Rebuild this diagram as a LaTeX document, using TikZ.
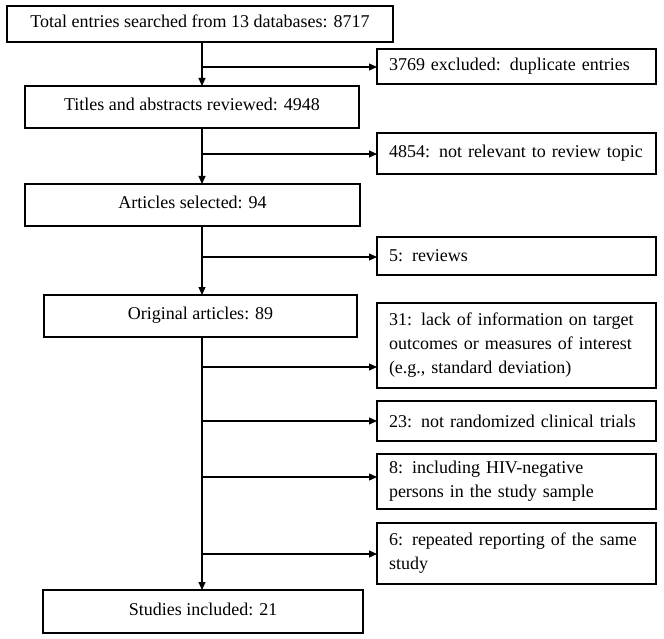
\documentclass[tikz,border=0pt]{standalone}
\usepackage{fontspec}
\setmainfont{Liberation Serif}
\usetikzlibrary{arrows.meta}
\begin{document}
\begin{tikzpicture}[x=1pt,y=-1pt,
  every node/.style={font=\fontsize{18}{24}\selectfont},
  mainbox/.style={draw=black, line width=1.3pt, inner sep=0pt, outer sep=0pt, align=center, text height=12.5pt, text depth=5pt},
  exbox/.style={draw=black, line width=1.3pt, inner xsep=12pt, inner ysep=0pt, outer sep=0pt, minimum width=279pt, text width=255pt, align=left},
  arr/.style={line width=1.2pt, -{Triangle[length=8pt,width=7pt]}},
  ln/.style={line width=1.2pt}]
\useasboundingbox (0,0) rectangle (664,639);
\coordinate (sp) at (202,0);
% main boxes
\node[mainbox, minimum width=386pt, minimum height=36pt] (b1) at (200,24) {Total entries searched from 13 databases: 8717};
\node[mainbox, minimum width=334pt, minimum height=42pt] (b2) at (192,107) {Titles and abstracts reviewed: 4948};
\node[mainbox, minimum width=335pt, minimum height=42pt] (b3) at (192.5,205) {Articles selected: 94};
\node[mainbox, minimum width=313pt, minimum height=42pt] (b4) at (200.5,316) {Original articles: 89};
\node[mainbox, minimum width=320pt, minimum height=43pt] (b5) at (203,611.5) {Studies included: 21};
% exclusion boxes
\node[exbox, minimum height=35pt] (e1) at (516.5,66.5) {3769 excluded: duplicate entries};
\node[exbox, minimum height=41pt] (e2) at (516.5,153.5) {4854: not relevant to review topic};
\node[exbox, minimum height=38pt] (e3) at (516.5,256) {5: reviews};
\node[exbox, minimum height=85pt] (e4) at (516.5,345.5) {31: lack of information on target\\outcomes or measures of interest\\(e.g., standard deviation)};
\node[exbox, minimum height=40pt] (e5) at (516.5,421) {23: not randomized clinical trials};
\node[exbox, minimum height=55pt] (e6) at (516.5,481.5) {8: including HIV-negative\\persons in the study sample};
\node[exbox, minimum height=61pt] (e7) at (516.5,553.5) {6: repeated reporting of the same\\study};
% junction coordinates on the spine
\coordinate (j1) at (202,67);
\coordinate (j2) at (202,154);
\coordinate (j3) at (202,257);
\coordinate (j4) at (202,367);
\coordinate (j5) at (202,421);
\coordinate (j6) at (202,477);
\coordinate (j7) at (202,554);
% vertical arrows
\draw[arr] (b1.south -| sp) -- (b2.north -| sp);
\draw[arr] (b2.south -| sp) -- (b3.north -| sp);
\draw[arr] (b3.south -| sp) -- (b4.north -| sp);
\draw[arr] (b4.south -| sp) -- (b5.north -| sp);
% horizontal arrows
\draw[arr] (j1) -- (j1 -| e1.west);
\draw[arr] (j2) -- (j2 -| e2.west);
\draw[arr] (j3) -- (j3 -| e3.west);
\draw[arr] (j4) -- (j4 -| e4.west);
\draw[arr] (j5) -- (j5 -| e5.west);
\draw[arr] (j6) -- (j6 -| e6.west);
\draw[arr] (j7) -- (j7 -| e7.west);
\end{tikzpicture}
\end{document}
